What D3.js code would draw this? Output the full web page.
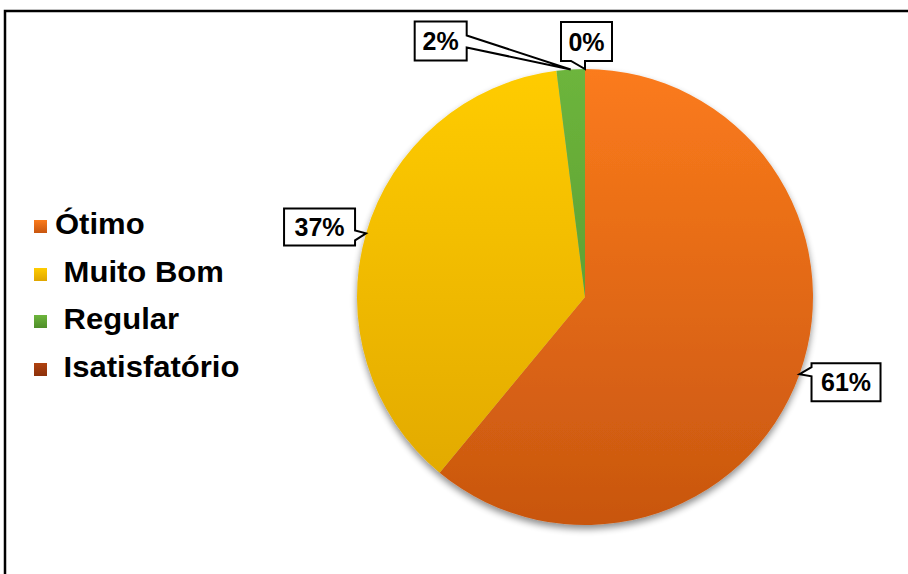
<!DOCTYPE html>
<html>
<head>
<meta charset="utf-8">
<script src="https://cdn.jsdelivr.net/npm/d3@7"></script>
<style>
  html, body { margin: 0; padding: 0; background: #fff; }
  svg { display: block; }
  text { font-family: "Liberation Sans", Arial, sans-serif; font-weight: bold; fill: #000; }
</style>
</head>
<body>
<svg id="chart" width="908" height="574"></svg>
<script>
// Survey answers and their shares (percent)
const categories = ["Ótimo", "Muito Bom", "Regular", "Isatisfatório"];
const values = [61, 37, 2, 0];
const valueLabels = ["61%", "37%", "2%", "0%"];
// Legend text as typed (the answers after the first carry a leading space)
const legendLabels = ["Ótimo", " Muito Bom", " Regular", " Isatisfatório"];

// Gradient stops per slice: top colour, bottom colour
const colorTop = ["#fb7b1c", "#ffcc00", "#6db53c", "#b04310"];
const colorBottom = ["#c8560f", "#dfa600", "#4f8e2a", "#8c300a"];

const svg = d3.select("#chart");
const W = 908, H = 574;

// Outer frame (runs off the right and bottom edge)
svg.append("rect")
  .attr("x", 5).attr("y", 11)
  .attr("width", W + 20).attr("height", H + 20)
  .attr("fill", "#fff")
  .attr("stroke", "#000").attr("stroke-width", 2.5);

const cx = 585, cy = 297, R = 228;

const defs = svg.append("defs");

// Soft shadow under the pie
const shadow = defs.append("filter").attr("id", "pieShadow")
  .attr("x", "-20%").attr("y", "-20%").attr("width", "140%").attr("height", "140%");
shadow.append("feGaussianBlur").attr("in", "SourceAlpha").attr("stdDeviation", 3.5).attr("result", "blur");
shadow.append("feOffset").attr("in", "blur").attr("dx", 0).attr("dy", 4).attr("result", "off");
shadow.append("feComponentTransfer").attr("in", "off").attr("result", "soft")
  .append("feFuncA").attr("type", "linear").attr("slope", 0.45);
const merge = shadow.append("feMerge");
merge.append("feMergeNode").attr("in", "soft");
merge.append("feMergeNode").attr("in", "SourceGraphic");

// Vertical gradients: slices use the pie's own coordinate space, legend keys their bounding box
categories.forEach((c, i) => {
  const g = defs.append("linearGradient")
    .attr("id", "grad" + i)
    .attr("gradientUnits", "userSpaceOnUse")
    .attr("x1", 0).attr("y1", -R).attr("x2", 0).attr("y2", R);
  g.append("stop").attr("offset", "0%").attr("stop-color", colorTop[i]);
  g.append("stop").attr("offset", "100%").attr("stop-color", colorBottom[i]);
  const lg = defs.append("linearGradient")
    .attr("id", "lgrad" + i)
    .attr("x1", 0).attr("y1", 0).attr("x2", 0).attr("y2", 1);
  lg.append("stop").attr("offset", "0%").attr("stop-color", colorTop[i]);
  lg.append("stop").attr("offset", "100%").attr("stop-color", colorBottom[i]);
});

const pie = d3.pie().sort(null).value(d => d);
const arcs = pie(values);
const arc = d3.arc().innerRadius(0).outerRadius(R);

const pieG = svg.append("g").attr("filter", "url(#pieShadow)");
const sliceG = pieG.append("g").attr("transform", `translate(${cx},${cy})`);
sliceG.selectAll("path")
  .data(arcs)
  .join("path")
  .attr("d", arc)
  .attr("fill", (d, i) => `url(#grad${i})`);

// Callout boxes: box rectangle relative to the slice's outer mid point (tip)
const callouts = [
  { box: [12, -11, 69, 38], side: "left",   p: [4, 13] },
  { box: [-82, -25, 71, 37], side: "right",  p: [22, 32] },
  { box: [-156, -48, 52, 39], side: "right", p: [14, 26] },
  { box: [-24, -47, 51, 39], side: "bottom", p: [10, 24] }
];

const labelG = svg.append("g");
arcs.forEach((d, i) => {
  const mid = (d.startAngle + d.endAngle) / 2;
  const tx = cx + R * Math.sin(mid);
  const ty = cy - R * Math.cos(mid);
  const c = callouts[i];
  const bx = tx + c.box[0], by = ty + c.box[1], bw = c.box[2], bh = c.box[3];
  let pts;
  if (c.side === "left") {
    pts = [[bx, by], [bx + bw, by], [bx + bw, by + bh], [bx, by + bh],
           [bx, by + c.p[1]], [tx, ty], [bx, by + c.p[0]]];
  } else if (c.side === "right") {
    pts = [[bx, by], [bx + bw, by], [bx + bw, by + c.p[0]], [tx, ty],
           [bx + bw, by + c.p[1]], [bx + bw, by + bh], [bx, by + bh]];
  } else {
    pts = [[bx, by], [bx + bw, by], [bx + bw, by + bh], [bx + c.p[1], by + bh],
           [tx, ty], [bx + c.p[0], by + bh], [bx, by + bh]];
  }
  labelG.append("path")
    .attr("d", d3.line()(pts) + "Z")
    .attr("fill", "#fff")
    .attr("stroke", "#000")
    .attr("stroke-width", 2)
    .attr("stroke-linejoin", "miter");
  labelG.append("text")
    .attr("x", bx + bw / 2)
    .attr("y", by + bh / 2 + 9)
    .attr("text-anchor", "middle")
    .attr("font-size", 25)
    .text(valueLabels[i]);
});

// Legend
const legend = svg.append("g");
const legendY = [234, 282, 329, 377];
categories.forEach((c, i) => {
  legend.append("rect")
    .attr("x", 34).attr("y", legendY[i] - 14)
    .attr("width", 13).attr("height", 13)
    .attr("fill", `url(#lgrad${i})`);
  legend.append("text")
    .attr("transform", `translate(55,${legendY[i]}) scale(1.07,1)`)
    .attr("font-size", 29)
    .attr("xml:space", "preserve")
    .style("white-space", "pre")
    .text(legendLabels[i]);
});
</script>
</body>
</html>
